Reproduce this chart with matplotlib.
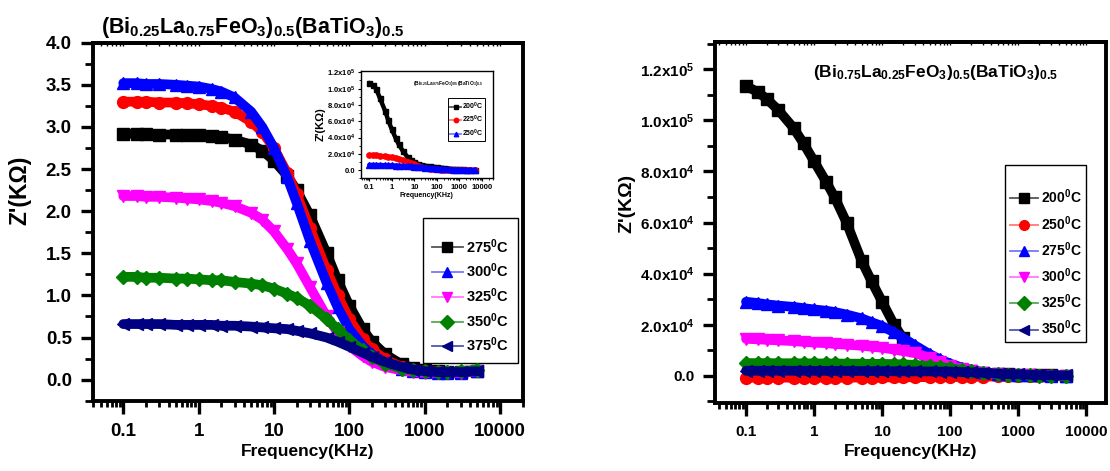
import matplotlib
matplotlib.use('Agg')
import matplotlib.pyplot as plt
from matplotlib.lines import Line2D
from matplotlib.ticker import FixedLocator, MultipleLocator, FuncFormatter, LogLocator, NullFormatter, FixedFormatter

plt.rcParams.update({
    'font.family': ['Liberation Sans', 'DejaVu Sans'],
    'font.weight': 'bold',
    'mathtext.fontset': 'custom',
    'mathtext.rm': 'Liberation Sans:bold',
    'mathtext.bf': 'Liberation Sans:bold',
    'mathtext.it': 'Liberation Sans:bold',
    'axes.linewidth': 2.8,
})

# ── data ──
freq = [0.1, 0.15, 0.2, 0.3, 0.5, 0.7, 1, 1.5, 2, 3, 5, 7, 10, 15, 20, 30, 50, 70,
        100, 150, 200, 300, 500, 700, 1000, 1500, 2000, 3000, 5000]

# left panel, Z' in kOhm
z275 = [2.92, 2.92, 2.92, 2.91, 2.91, 2.90, 2.90, 2.89, 2.88, 2.85, 2.79, 2.72, 2.60, 2.42, 2.25,
        1.95, 1.50, 1.18, 0.88, 0.60, 0.45, 0.30, 0.18, 0.14, 0.11, 0.10, 0.09, 0.09, 0.10]
z_red = [3.30, 3.30, 3.30, 3.29, 3.29, 3.28, 3.27, 3.25, 3.23, 3.18, 3.06, 2.94, 2.75, 2.45, 2.20,
         1.80, 1.30, 1.00, 0.72, 0.48, 0.36, 0.24, 0.15, 0.12, 0.10, 0.09, 0.08, 0.09, 0.10]
z300 = [3.52, 3.52, 3.51, 3.51, 3.50, 3.49, 3.48, 3.45, 3.42, 3.35, 3.18, 3.00, 2.75, 2.40, 2.10,
        1.65, 1.15, 0.86, 0.60, 0.40, 0.30, 0.20, 0.13, 0.10, 0.09, 0.08, 0.08, 0.08, 0.10]
z325 = [2.18, 2.18, 2.17, 2.17, 2.16, 2.15, 2.14, 2.12, 2.10, 2.06, 1.98, 1.90, 1.76, 1.55, 1.38,
        1.10, 0.75, 0.56, 0.40, 0.28, 0.21, 0.15, 0.11, 0.09, 0.08, 0.08, 0.08, 0.08, 0.10]
z350 = [1.22, 1.22, 1.21, 1.21, 1.20, 1.20, 1.19, 1.18, 1.18, 1.16, 1.14, 1.12, 1.08, 1.02, 0.97,
        0.88, 0.72, 0.60, 0.47, 0.35, 0.27, 0.19, 0.13, 0.11, 0.10, 0.09, 0.09, 0.10, 0.12]
z375 = [0.66, 0.66, 0.66, 0.66, 0.65, 0.65, 0.65, 0.65, 0.64, 0.64, 0.63, 0.62, 0.61, 0.60, 0.58,
        0.55, 0.50, 0.45, 0.39, 0.32, 0.27, 0.21, 0.15, 0.12, 0.10, 0.09, 0.09, 0.09, 0.10]
left_labels = ['275', '300', '325', '350', '375']

# inset
i200 = [107000, 104000, 100000, 88000, 73000, 61000, 50000, 39000, 32000, 24000, 16000, 12500, 10000,
        7500, 6500, 5500, 4500, 4000, 3500, 3000, 2500, 2000, 1500, 1200, 1000, 800, 600, 400, 300]
i225 = [18500, 18300, 18000, 17500, 17000, 16500, 16000, 15000, 14000, 12500, 10500, 9000, 7500,
        5500, 4300, 3000, 1800, 1300, 900, 600, 400, 300, 200, 100, 0, 0, 0, 0, 0]
i250 = [6500, 6400, 6300, 6200, 6100, 6000, 5900, 5700, 5500, 5300, 5000, 4700, 4400,
        4000, 3700, 3200, 2600, 2200, 1800, 1400, 1100, 800, 500, 400, 300, 200, 150, 100, 100]
inset_labels = ['200', '225', '250']

# right panel
r200 = [113500, 111000, 108500, 104000, 97000, 91000, 84000, 76000, 70000, 60000, 45000, 37000, 29000,
        20000, 15000, 10000, 6000, 4200, 3000, 2200, 1800, 1300, 900, 700, 500, 400, 300, 200, 100]
r250 = [-700, -700, -700, -700, -700, -700, -700, -700, -700, -700, -650, -650, -600,
        -600, -550, -550, -500, -500, -500, -400, -350, -300, -200, -150, -100, -50, 0, 0, 0]
r275 = [29000, 28500, 28000, 27500, 27000, 26500, 26000, 25500, 25000, 24000, 22500, 21000, 19500,
        17000, 15000, 12000, 8500, 6500, 4800, 3200, 2400, 1500, 900, 600, 400, 300, 200, 100, 0]
r300 = [14500, 14300, 14100, 13900, 13600, 13300, 13000, 12800, 12500, 12200, 11800, 11400, 11000,
        10300, 9700, 9000, 7000, 5500, 4000, 2800, 2000, 1300, 800, 500, 300, 200, 100, 0, 0]
r325 = [5000, 5000, 5000, 4950, 4950, 4900, 4900, 4850, 4850, 4800, 4750, 4700, 4700,
        4600, 4500, 4300, 3800, 3400, 3000, 2300, 1800, 1200, 700, 500, 300, 200, 100, 0, 0]
r350 = [2000, 2000, 2000, 2000, 2000, 2000, 1950, 1950, 1950, 1900, 1900, 1850, 1850,
        1800, 1800, 1750, 1750, 1700, 1700, 1500, 1400, 1200, 900, 700, 600, 400, 300, 200, 200]
right_labels = ['200', '250', '275', '300', '325', '350']

colors = ['#000000', '#ff0000', '#0000ff', '#ff00ff', '#008000', '#000080']
light = ['#555555', '#ff7777', '#7777ff', '#ff77ff', '#55aa55', '#5555aa']
markers = ['s', 'o', '^', 'v', 'D', '<']
msizes = [8, 8.5, 8.5, 8.5, 7, 8.5]


def band(ax, y, k, lw=7.0, mscale=1.0):
    ax.plot(freq, y, color=colors[k], lw=lw, solid_capstyle='round', zorder=2 + k)
    ax.plot(freq, y, ls='none', marker=markers[k], ms=msizes[k] * mscale,
            color=colors[k], zorder=2 + k)


def handle(k, ms=7):
    return Line2D([], [], color=light[k], lw=1.3, marker=markers[k], ms=ms,
                  markerfacecolor=colors[k], markeredgecolor=colors[k])


def style_log_x(ax, fs=12, big=True):
    ax.set_xscale('log')
    ax.xaxis.set_major_locator(FixedLocator([0.1, 1, 10, 100, 1000, 10000]))
    ax.xaxis.set_major_formatter(FixedFormatter(['0.1', '1', '10', '100', '1000', '10000']))
    ax.xaxis.set_minor_locator(LogLocator(base=10, subs=range(2, 10), numticks=20))
    ax.xaxis.set_minor_formatter(NullFormatter())
    if big:
        ax.tick_params(axis='x', which='major', direction='out', length=9, width=2.4, labelsize=fs, pad=7)
        ax.tick_params(axis='x', which='minor', direction='out', length=4.5, width=2.0)
        sec = ax.secondary_xaxis('top')
        sec.xaxis.set_major_locator(FixedLocator([0.1, 1, 10, 100, 1000, 10000]))
        sec.xaxis.set_minor_locator(LogLocator(base=10, subs=range(2, 10), numticks=20))
        sec.tick_params(which='both', direction='in', length=2.5, width=1.0, labeltop=False)
        sec.xaxis.set_minor_formatter(NullFormatter())


def sci_fmt(v, pos):
    if v == 0:
        return '0.0'
    e = 4 if abs(v) < 1e5 else 5
    return '%.1fx10$^{%d}$' % (v / 10 ** e, e)


fig = plt.figure(figsize=(11.1, 4.71), dpi=100, facecolor='white')
W, H = 1110, 471

# ── left panel ──
ax1 = fig.add_axes([92.7 / W, 1 - 400.7 / H, 430.3 / W, 358 / H])
left_series = [(z275, 0), (z_red, 1), (z300, 2), (z325, 3), (z350, 4), (z375, 5)]
for y, k in left_series:
    band(ax1, y, k)
style_log_x(ax1, fs=13.5)
ax1.set_xlim(0.0393, 20200)
ax1.set_ylim(-0.25, 4.0)
ax1.yaxis.set_major_locator(MultipleLocator(0.5))
ax1.yaxis.set_minor_locator(MultipleLocator(0.25))
ax1.yaxis.set_major_formatter(FuncFormatter(lambda v, p: '%.1f' % v))
ax1.tick_params(axis='y', which='major', direction='out', length=9, width=2.4, labelsize=13.5, pad=6)
ax1.tick_params(axis='y', which='minor', direction='out', length=5.5, width=2.0)
ax1.set_xlabel('Frequency(KHz)', fontsize=12.5, fontweight='bold', labelpad=3)
fig.text(20 / W, 1 - 190 / H, "Z'(KΩ)", rotation=90, fontsize=16.5, fontweight='bold',
         ha='center', va='center')
fig.text(253 / W, 1 - 33 / H, r'(Bi$_{0.25}$La$_{0.75}$FeO$_3$)$_{0.5}$(BaTiO$_3$)$_{0.5}$',
         fontsize=15.5, fontweight='bold', ha='center', va='baseline')
leg_idx = [0, 2, 3, 4, 5]
leg1 = ax1.legend([handle(k) for k in leg_idx],
                  [lab + r'$^{0}$C' for lab in left_labels],
                  loc='upper left', bbox_to_anchor=(0.768, 0.51), fontsize=10.5,
                  title=' ', title_fontsize=2, frameon=True, fancybox=False,
                  edgecolor='black', framealpha=1, handlelength=2.1, handletextpad=0.25,
                  labelspacing=0.42, borderpad=0.6, borderaxespad=0)
leg1.get_frame().set_linewidth(1.0)

# ── inset ──
ins = fig.add_axes([361 / W, 1 - 178.3 / H, 131.7 / W, 107.6 / H])
for y, k in [(i200, 0), (i225, 1), (i250, 2)]:
    band(ins, y, k, lw=3.2, mscale=0.45)
style_log_x(ins, big=False)
ins.set_xlim(0.043, 30000)
ins.set_ylim(-10000, 122000)
ins.yaxis.set_major_locator(MultipleLocator(20000))
ins.yaxis.set_minor_locator(MultipleLocator(10000))
ins.yaxis.set_major_formatter(FuncFormatter(sci_fmt))
for sp in ins.spines.values():
    sp.set_linewidth(1.0)
ins.tick_params(which='major', direction='out', length=2.5, width=0.8, labelsize=5.5, pad=1.5)
ins.tick_params(which='minor', direction='out', length=1.5, width=0.6)
ins.set_xlabel('Frequency(KHz)', fontsize=5, fontweight='bold', labelpad=1)
ins.set_ylabel("Z'(KΩ)", fontsize=8, fontweight='bold', labelpad=1)
ins.text(0.93, 0.88, r'(Bi$_{0.25}$La$_{0.75}$FeO$_3$)$_{0.5}$(BaTiO$_3$)$_{0.5}$',
         transform=ins.transAxes, fontsize=3.5, fontweight='bold', ha='right', va='center')
leg_in = ins.legend([handle(k, ms=3.2) for k in range(3)],
                    [lab + r'$^{0}$C' for lab in inset_labels],
                    loc='upper left', bbox_to_anchor=(0.66, 0.745), fontsize=5,
                    frameon=True, fancybox=False, edgecolor='black', framealpha=1,
                    handlelength=1.6, handletextpad=0.1, labelspacing=0.35, borderpad=0.3,
                    borderaxespad=0)
leg_in.get_frame().set_linewidth(0.7)

# ── right panel ──
ax2 = fig.add_axes([715 / W, 1 - 402.7 / H, 391 / W, 361 / H])
for k, y in enumerate([r200, r250, r275, r300, r325, r350]):
    band(ax2, y, k)
style_log_x(ax2, fs=11)
ax2.set_xlim(0.035, 19500)
ax2.set_ylim(-10500, 130800)
ax2.yaxis.set_major_locator(MultipleLocator(20000))
ax2.yaxis.set_minor_locator(MultipleLocator(10000))
ax2.yaxis.set_major_formatter(FuncFormatter(sci_fmt))
ax2.tick_params(axis='y', which='major', direction='out', length=9, width=2.4, labelsize=11, pad=6)
ax2.tick_params(axis='y', which='minor', direction='out', length=5.5, width=2.0)
ax2.set_xlabel('Frequency(KHz)', fontsize=12.5, fontweight='bold', labelpad=4)
fig.text(627 / W, 1 - 203 / H, "Z'(KΩ)", rotation=90, fontsize=14, fontweight='bold',
         ha='center', va='center')
ax2.text(936 / W, 1 - 77 / H, r'(Bi$_{0.75}$La$_{0.25}$FeO$_3$)$_{0.5}$(BaTiO$_3$)$_{0.5}$',
         transform=fig.transFigure, fontsize=12.5, fontweight='bold', ha='center', va='baseline')
leg2 = ax2.legend([handle(k) for k in range(6)],
                  [lab + r'$^{0}$C' for lab in right_labels],
                  loc='upper left', bbox_to_anchor=(0.742, 0.658), fontsize=10,
                  title=' ', title_fontsize=8, frameon=True, fancybox=False,
                  edgecolor='black', framealpha=1, handlelength=2.0, handletextpad=0.2,
                  labelspacing=0.55, borderpad=0.35, borderaxespad=0)
leg2.get_frame().set_linewidth(1.0)

fig.savefig('out.png', dpi=100, facecolor='white')
